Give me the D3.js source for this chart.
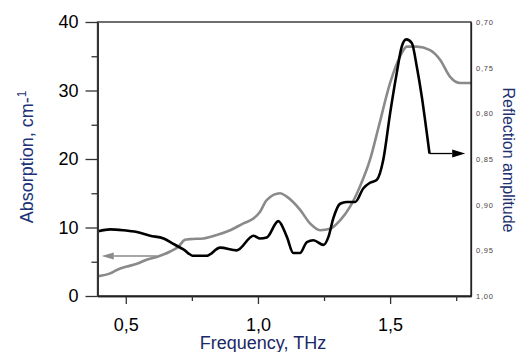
<!DOCTYPE html>
<html>
<head>
<meta charset="utf-8">
<script src="https://cdn.jsdelivr.net/npm/d3@7"></script>
<style>
  body { margin: 0; background: #fff; }
  svg { display: block; font-family: "Liberation Sans", Arial, sans-serif; }
</style>
</head>
<body>
<svg width="517" height="352"></svg>
<script>
// absorption (grey curve, left axis)
const absFreq = [0.396, 0.441, 0.466, 0.504, 0.542, 0.579, 0.617, 0.668, 0.699, 0.724, 0.743, 0.794, 0.844, 0.895, 0.945, 0.983, 1.008, 1.033, 1.084, 1.109, 1.159, 1.197, 1.235, 1.273, 1.310, 1.348, 1.386, 1.424, 1.456, 1.500, 1.538, 1.563, 1.601, 1.651, 1.689, 1.727, 1.765, 1.806];
const absVals = [2.9, 3.3, 3.8, 4.3, 4.7, 5.3, 5.7, 6.5, 7.2, 8.2, 8.3, 8.4, 8.9, 9.6, 10.6, 11.3, 12.3, 14.0, 15.0, 14.5, 12.6, 10.6, 9.6, 9.8, 11.0, 13.0, 16.0, 19.9, 24.6, 31.1, 35.0, 36.4, 36.4, 35.9, 34.5, 32.0, 31.1, 31.1];

// reflection amplitude (black curve, right axis)
const reflFreq = [0.396, 0.441, 0.491, 0.542, 0.592, 0.643, 0.680, 0.718, 0.756, 0.806, 0.857, 0.920, 0.983, 1.008, 1.033, 1.077, 1.109, 1.134, 1.159, 1.185, 1.210, 1.248, 1.267, 1.285, 1.311, 1.336, 1.368, 1.399, 1.424, 1.449, 1.474, 1.500, 1.525, 1.544, 1.561, 1.582, 1.601, 1.620, 1.639, 1.649];
const reflVals = [0.929, 0.927, 0.928, 0.930, 0.934, 0.937, 0.943, 0.949, 0.956, 0.956, 0.947, 0.950, 0.934, 0.937, 0.936, 0.918, 0.935, 0.953, 0.953, 0.941, 0.939, 0.944, 0.935, 0.915, 0.899, 0.897, 0.897, 0.882, 0.876, 0.873, 0.851, 0.800, 0.756, 0.727, 0.719, 0.723, 0.749, 0.782, 0.822, 0.844];

const xTicks = [0.5, 1.0, 1.5];
const xMinorTicks = [0.75, 1.25, 1.75];
const absTicks = [0, 10, 20, 30, 40];
const absMinorTicks = [5, 15, 25, 35];
const reflTicks = [0.70, 0.75, 0.80, 0.85, 0.90, 0.95, 1.00];

// arrows: [from, to] along a constant value
const absArrow = {from: 0.617, to: 0.409, value: 5.84};
const reflArrow = {from: 1.649, to: 1.784, value: 0.844};

const margin = {top: 22, left: 97.5, right: 46, bottom: 56},
    width = 517 - margin.left - margin.right,
    height = 352 - margin.top - margin.bottom;

const svg = d3.select("svg")
  .append("g")
    .attr("transform", "translate(" + margin.left + "," + margin.top + ")");

// scales
const x = d3.scaleLinear().domain([0.393, 1.806]).range([0, width]);
const yAbs = d3.scaleLinear().domain([0, 40]).range([height, 0]);
const yRefl = d3.scaleLinear().domain([0.70, 1.00]).range([0, height]);

svg.append("clipPath").attr("id", "clip")
  .append("rect").attr("width", width).attr("height", height);

const lineAbs = d3.line()
    .x((d, i) => x(absFreq[i]))
    .y(d => yAbs(d))
    .curve(d3.curveMonotoneX);

const lineRefl = d3.line()
    .x((d, i) => x(reflFreq[i]))
    .y(d => yRefl(d))
    .curve(d3.curveMonotoneX);

const plot = svg.append("g").attr("clip-path", "url(#clip)");

plot.append("path")
    .attr("d", lineAbs(absVals))
    .attr("fill", "none")
    .attr("stroke", "#8a8a8a")
    .attr("stroke-width", 2.6);

plot.append("path")
    .attr("d", lineRefl(reflVals))
    .attr("fill", "none")
    .attr("stroke", "#000")
    .attr("stroke-width", 2.6);

// arrows
function arrow(x0, x1, yy, color, headLen, headHalf) {
  const dir = Math.sign(x1 - x0);
  svg.append("line")
      .attr("x1", x0).attr("x2", x1 - dir * headLen)
      .attr("y1", yy).attr("y2", yy)
      .attr("stroke", color)
      .attr("stroke-width", 1.3);
  svg.append("path")
      .attr("d", `M${x1},${yy} L${x1 - dir * headLen},${yy - headHalf} L${x1 - dir * headLen},${yy + headHalf} Z`)
      .attr("fill", color);
}
arrow(x(absArrow.from), x(absArrow.to), yAbs(absArrow.value), "#8a8a8a", 12, 3.5);
arrow(x(reflArrow.from), x(reflArrow.to), yRefl(reflArrow.value), "#000", 13, 4);

// frame
svg.append("rect")
    .attr("width", width)
    .attr("height", height)
    .attr("fill", "none")
    .attr("stroke", "#222")
    .attr("stroke-width", 1.3);

// left axis
const leftAxis = svg.append("g")
    .call(d3.axisLeft(yAbs).tickValues(absTicks).tickSize(12).tickPadding(7).tickSizeOuter(0));
svg.append("g")
    .call(d3.axisLeft(yAbs).tickValues(absMinorTicks).tickSize(6).tickFormat("").tickSizeOuter(0));

// bottom axis
const bottomAxis = svg.append("g")
    .attr("transform", "translate(0," + height + ")")
    .call(d3.axisBottom(x).tickValues(xTicks).tickSize(8).tickPadding(14).tickSizeOuter(0)
      .tickFormat(d => d3.format(".1f")(d).replace(".", ",")));
svg.append("g")
    .attr("transform", "translate(0," + height + ")")
    .call(d3.axisBottom(x).tickValues(xMinorTicks).tickSize(5).tickFormat("").tickSizeOuter(0));

// right axis
const rightAxis = svg.append("g")
    .attr("transform", "translate(" + width + ",0)")
    .call(d3.axisRight(yRefl).tickValues(reflTicks).tickSize(0).tickPadding(5).tickSizeOuter(0)
      .tickFormat(d => d3.format(".2f")(d).replace(".", ",")));

svg.selectAll(".domain").attr("stroke", "#222").attr("stroke-width", 1.3);
leftAxis.select(".domain").attr("stroke", "#555").attr("stroke-width", 2);
svg.selectAll(".tick line").attr("stroke", "#333").attr("stroke-width", 1.3);

leftAxis.selectAll("text").style("font-size", "18px").attr("fill", "#000");
bottomAxis.selectAll("text").style("font-size", "18px").attr("fill", "#000");
rightAxis.selectAll("text")
    .style("font-size", "7.5px")
    .style("letter-spacing", "0.8px")
    .attr("fill", "#444");

// axis titles
svg.append("text")
    .attr("transform", `translate(${-71}, ${height / 2 - 2}) rotate(-90)`)
    .attr("text-anchor", "middle")
    .attr("dy", "0.35em")
    .style("font-size", "18px")
    .attr("fill", "#1d3278")
    .html('Absorption, cm-<tspan dy="-7" font-size="12px">1</tspan>');

svg.append("text")
    .attr("transform", `translate(${width + 38}, ${height / 2 + 1}) rotate(90)`)
    .attr("text-anchor", "middle")
    .attr("dy", "0.35em")
    .style("font-size", "16px")
    .attr("fill", "#22306f")
    .text("Reflection amplitude");

svg.append("text")
    .attr("x", 263 - margin.left)
    .attr("y", 349 - margin.top)
    .attr("text-anchor", "middle")
    .style("font-size", "18px")
    .attr("fill", "#1a2866")
    .text("Frequency, THz");
</script>
</body>
</html>
